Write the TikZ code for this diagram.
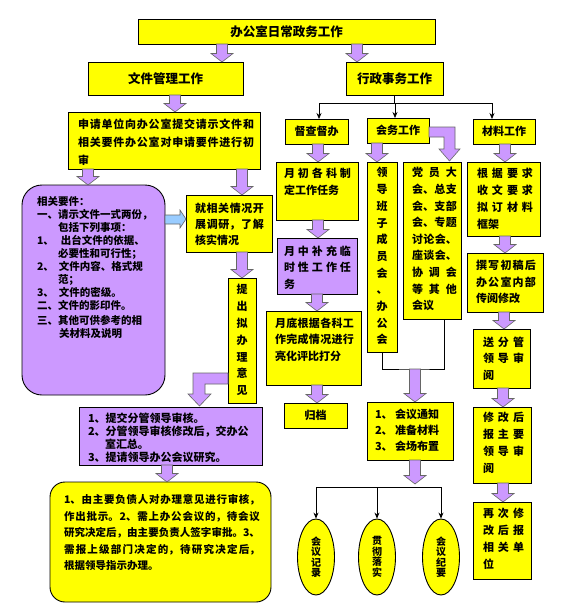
\documentclass[tikz,border=0pt]{standalone}
\usepackage{fontspec}
\setmainfont{Noto Sans CJK SC}
\usetikzlibrary{calc,arrows.meta,shapes.geometric}
\XeTeXlinebreaklocale "zh"
\XeTeXlinebreakskip=0pt plus 4pt
\tolerance=10000
\hbadness=10000
\hfuzz=3pt
\definecolor{yel}{HTML}{FFFF00}
\definecolor{purp}{HTML}{CC99FF}
\definecolor{lblue}{HTML}{99CCFF}
\newcommand\fsz[2]{\fontsize{#1}{#2}\selectfont}
\tikzset{
 box/.style={draw=black,line width=0.9pt,anchor=north west,inner sep=0pt,outer sep=0pt},
 ybox/.style={box,fill=yel},
 pbox/.style={box,fill=purp},
 txt/.style={anchor=north west,inner sep=0pt,outer sep=0pt,align=justify},
 vtxt/.style={anchor=north,inner sep=0pt,outer sep=0pt,align=center,text width=12pt},
 barrow/.style={fill=purp,draw=black!60,line width=0.6pt,line join=miter},
 conn/.style={draw=black,line width=0.7pt},
 arr/.style={conn,-{Stealth[length=6pt,width=5pt]}},
 ell/.style={ellipse,draw=black,line width=0.9pt,fill=yel,minimum width=37pt,minimum height=76pt,inner sep=0pt,align=center,font=\bfseries\fsz{10}{10.5}},
}
\newcommand\mybox[7]{\node[#1,minimum width={#5-#3},minimum height={#6-#4}] (#2) at (#3,#4) {#7};}
\newcommand\dnarrow[3]{\path[barrow] let \p1=(#2), \p2=(#3), \p3=(#1,0) in (\x3-5.5pt,\y1) -- (\x3+5.5pt,\y1) -- (\x3+5.5pt,\y2+8.5pt) -- (\x3+11pt,\y2+8.5pt) -- (\x3,\y2) -- (\x3-11pt,\y2+8.5pt) -- (\x3-5.5pt,\y2+8.5pt) -- cycle;}
\begin{document}
\begin{tikzpicture}[x=1pt,y=-1pt]
\fill[white] (0,0) rectangle (565,616);
\useasboundingbox (0,0) rectangle (565,616);
% top levels
\mybox{ybox}{top}{138}{19}{435}{44}{\bfseries\fsz{12.5}{14}办公室日常政务工作}
\mybox{ybox}{wjgl}{88}{62}{243}{95}{\bfseries\fsz{12.5}{14}文件管理工作}
\mybox{ybox}{xzsw}{346}{62}{443}{95}{\bfseries\fsz{12.5}{14}行政事务工作}
% left column
\mybox{ybox}{sq}{68}{112}{260}{169}{}
\node[txt,text width=176pt,font=\bfseries\fsz{11}{18}] (sqt) at (78,118.5) {申请单位向办公室提交请示文件和\linebreak 相关要件办公室对申请要件进行初\linebreak 审};
\mybox{pbox,rounded corners=20pt}{hxys}{22}{185}{165}{395}{}
\node[txt,align=left,text width=126pt,font=\bfseries\fsz{10.5}{13}] (hxyst) at (37,196.75) {相关要件：\\一、请示文件一式两份，\\\hspace*{21pt}包括下列事项：\\\makebox[24pt][l]{1、}出台文件的依据、\\\hspace*{21pt}必要性和可行性；\\\makebox[22pt][l]{2、}文件内容、格式规\\\hspace*{21pt}范；\\\makebox[22pt][l]{3、}文件的密级。\\二、文件的影印件。\\[2pt]三、其他可供参考的相\\\hspace*{22pt}关材料及说明};
\mybox{ybox}{jxg}{186}{195}{272}{252}{}
\node[txt,text width=69pt,font=\bfseries\fsz{11}{16}] (jxgt) at (195,203.5) {就相关情况开\linebreak 展调研，了解\linebreak 核实情况};
\mybox{ybox}{tcnb}{228}{278}{256}{403}{}
\node[vtxt,font=\bfseries\fsz{11}{16.8}] (tcnbt) at (242,284.5) {提\\出\\拟\\办\\理\\意\\见};
\mybox{pbox}{tjfg}{79}{407}{262}{465}{}
\node[txt,align=left,text width=172pt,font=\bfseries\fsz{11}{13}] (tjfgt) at (88,412.5) {1、提交分管领导审核。\\2、分管领导审核修改后，交办公\\\hspace*{17pt}室汇总。\\3、提请领导办公会议研究。};
\mybox{ybox,rounded corners=15pt}{yb}{50}{482}{271}{602}{}
\node[txt,text width=196pt,font=\bfseries\fsz{10.5}{16.5}] (ybt) at (64,494.75) {1、由主要负债人对办理意见进行审核，\linebreak 作出批示。2、需上办公会议的，待会议\linebreak 研究决定后，由主要负责人签字审批。3、\linebreak 需报上级部门决定的，待研究决定后，\linebreak 根据领导指示办理。};
% right side
\mybox{ybox}{dcdb}{285}{119}{348}{144}{\bfseries\fsz{11}{13}督查督办}
\mybox{ybox}{hw}{367}{118}{429}{143}{\bfseries\fsz{11}{13}会务工作}
\mybox{ybox}{clgz}{473}{119}{535}{144}{\bfseries\fsz{11}{13}材料工作}
\mybox{ybox}{ycgk}{276}{162}{358}{220}{}
\node[txt,text width=67pt,font=\bfseries\fsz{11}{17}] (ycgkt) at (284,167.5) {月初各科制\linebreak 定工作任务};
\mybox{pbox}{yzbc}{277}{238}{357}{294}{}
\node[txt,text width=67pt,font=\bfseries\fsz{11}{16.5}] (yzbct) at (284,245.5) {月中补充临\linebreak 时性工作任\linebreak 务};
\mybox{ybox}{ydgj}{266}{311}{361}{385}{}
\node[txt,text width=79pt,font=\bfseries\fsz{11}{16.5}] (ydgjt) at (275,317.5) {月底根据各科工\linebreak 作完成情况进行\linebreak 亮化评比打分};
\mybox{ybox}{gd}{284}{403}{347}{428}{\bfseries\fsz{11}{13}归档}
\mybox{ybox}{ldbz}{367}{162}{397}{352}{}
\node[vtxt,font=\bfseries\fsz{11}{16.7}] (ldbzt) at (382,167.5) {领\\导\\班\\子\\成\\员\\会\\、\\办\\公\\会};
\mybox{ybox}{dydh}{403}{162}{461}{319}{}
\node[txt,text width=45pt,font=\bfseries\fsz{11}{16.6}] (dydht) at (412,167.5) {党员大\linebreak 会、总支\linebreak 会、支部\linebreak 会、专题\linebreak 讨论会、\linebreak 座谈会、\linebreak 协调会\linebreak 等其他\linebreak 会议};
\mybox{ybox}{gjyq}{467}{162}{540}{236}{}
\node[txt,text width=56pt,font=\bfseries\fsz{11}{17}] (gjyqt) at (477,168.5) {根据要求\linebreak 收文要求\linebreak 拟订材料\linebreak 框架};
\mybox{ybox}{zxcg}{467}{253}{543}{312}{}
\node[txt,text width=60pt,font=\bfseries\fsz{11}{16.5}] (zxcgt) at (476,260.5) {撰写初稿后\linebreak 办公室内部\linebreak 传阅修改};
\mybox{ybox}{sfg}{473}{329}{530}{388}{}
\node[txt,text width=41pt,font=\bfseries\fsz{11}{16.5}] (sfgt) at (483,336.5) {送分管\linebreak 领导审\linebreak 阅};
\mybox{ybox}{xgh}{473}{407}{531}{483}{}
\node[txt,text width=41pt,font=\bfseries\fsz{11}{17}] (xght) at (483,412.5) {修改后\linebreak 报主要\linebreak 领导审\linebreak 阅};
\mybox{ybox}{zcxg}{473}{502}{531}{579}{}
\node[txt,text width=41pt,font=\bfseries\fsz{11}{17}] (zcxgt) at (483,508.5) {再次修\linebreak 改后报\linebreak 相关单\linebreak 位};
\mybox{ybox}{hytz}{367}{402}{453}{460}{}
\node[txt,align=left,text width=75pt,font=\bfseries\fsz{11}{16}] (hytzt) at (375,409.5) {\makebox[20pt][l]{1、}会议通知\\\makebox[20pt][l]{2、}准备材料\\\makebox[20pt][l]{3、}会场布置};
\node[ell] (e1) at (316,557) {会\\议\\记\\录};
\node[ell] (e2) at (377,557) {贯\\彻\\落\\实};
\node[ell] (e3) at (441,557) {会\\议\\纪\\要};
% tree connectors
\coordinate (tl) at (319,103);
\coordinate (tm) at (395,103);
\coordinate (tr) at (492,103);
\draw[conn] (xzsw.south) -- (xzsw.south |- tl);
\draw[conn] (tl) -- (tr);
\draw[arr] (tl) -- (tl |- dcdb.north);
\draw[arr] (tm) -- (tm |- hw.north);
\draw[arr] (tr) -- (tr |- clgz.north);
\coordinate (mj) at (415,369);
\coordinate (mr) at (444,319);
\draw[conn] (ldbz.south) |- (mj) -| (mr);
\coordinate (j2) at (415,487);
\coordinate (j2t) at (415,484);
\draw[conn] (e1.north |- j2) -- (e3.north |- j2);
\draw[arr] (e1.north |- j2) -- (e1.north);
\draw[arr] (e2.north |- j2) -- (e2.north);
\draw[arr] (e3.north |- j2) -- (e3.north);
% block arrows
\dnarrow{222}{top.south}{wjgl.north}
\dnarrow{357}{top.south}{xzsw.north}
\dnarrow{175}{wjgl.south}{sq.north}
\dnarrow{88}{sq.south}{hxys.north}
\dnarrow{242}{sq.south}{jxg.north}
\dnarrow{242}{jxg.south}{tcnb.north}
\dnarrow{318}{dcdb.south}{ycgk.north}
\dnarrow{318}{ycgk.south}{yzbc.north}
\dnarrow{317}{yzbc.south}{ydgj.north}
\dnarrow{317}{ydgj.south}{gd.north}
\dnarrow{377}{hw.south}{ldbz.north}
\dnarrow{505}{clgz.south}{gjyq.north}
\dnarrow{505}{gjyq.south}{zxcg.north}
\dnarrow{504}{zxcg.south}{sfg.north}
\dnarrow{503}{sfg.south}{xgh.north}
\dnarrow{503}{xgh.south}{zcxg.north}
\dnarrow{167}{tjfg.south}{yb.north}
\dnarrow{415}{mj}{hytz.north}
\dnarrow{415}{hytz.south}{j2t}
\path[barrow] (429,127) -- (455,127) -- (455,149) -- (460,149) -- (449.5,161) -- (439,149) -- (444,149) -- (444,137) -- (429,137) -- cycle;
\path[barrow] (228,373) -- (193,373) -- (193,394) -- (188,394) -- (199.5,406) -- (211,394) -- (205,394) -- (205,384) -- (228,384) -- cycle;
\path[barrow,fill=lblue] (165,215) -- (180,215) -- (180,210) -- (186,219) -- (180,228) -- (180,224) -- (165,224) -- cycle;
\end{tikzpicture}
\end{document}
